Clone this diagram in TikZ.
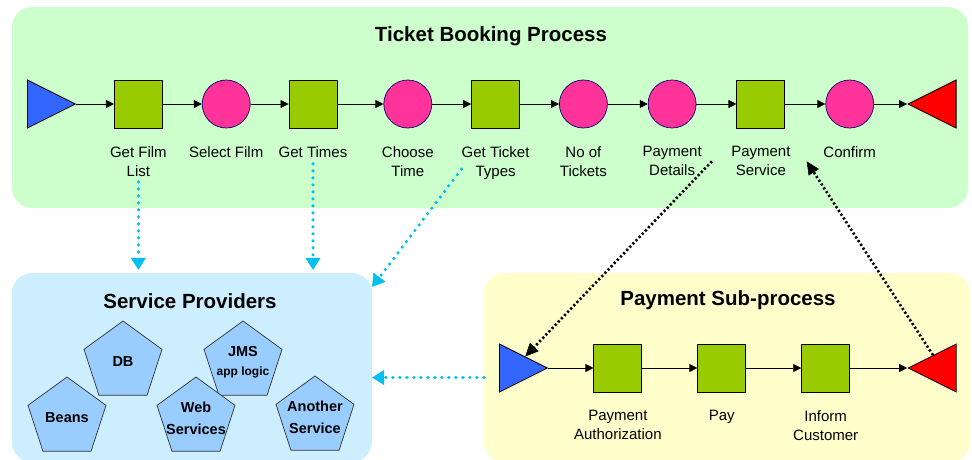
\documentclass[tikz,border=0pt]{standalone}
\usepackage{fontspec}
\setsansfont{Liberation Sans}
\usetikzlibrary{arrows.meta,positioning,shapes.geometric}
\definecolor{booking}{HTML}{CCFFCC}
\definecolor{provider}{HTML}{CCEEFF}
\definecolor{subproc}{HTML}{FFFFCC}
\definecolor{task}{HTML}{99CC00}
\definecolor{stop}{HTML}{FF3399}
\definecolor{startc}{HTML}{3366FF}
\definecolor{endc}{HTML}{FF0000}
\definecolor{pent}{HTML}{99CCFF}
\definecolor{uses}{HTML}{00C0F0}

\begin{document}
\begin{tikzpicture}[x=1pt,y=-1pt,
  font=\sffamily\fontsize{15}{19}\selectfont,
  panel/.style={fill=#1,rounded corners=20pt,inner sep=0pt},
  title/.style={font=\sffamily\bfseries\fontsize{20.5}{24}\selectfont,anchor=base},
  taskbox/.style={draw,fill=task,line width=.9pt,minimum size=48pt,inner sep=0pt},
  stepdot/.style={circle,draw=blue!40!black,fill=stop,line width=.7pt,minimum size=48pt,inner sep=0pt},
  source/.style={isosceles triangle,isosceles triangle stretches,draw,fill=startc,line width=.8pt,
    minimum width=48pt,minimum height=48pt,inner sep=0pt},
  sink/.style={source,fill=endc,shape border rotate=180},
  caption/.style={align=center,inner sep=0pt,anchor=north},
  flow/.style={-{Triangle[length=8pt,width=8pt]},line width=.8pt},
  uses/.style={-{Triangle[length=12pt,width=15pt,line width=.5pt]},draw=uses,line width=3.5pt,
    line cap=round,dash pattern=on 0pt off 7pt},
  call/.style={-{Triangle[length=13pt,width=12pt,line width=.5pt]},line width=2.6pt,
    dash pattern=on 2.2pt off 2.3pt},
  prov/.style={regular polygon,regular polygon sides=5,draw=black!80,fill=pent,line width=.7pt,
    minimum size=82pt,inner sep=0pt,
    label={[align=center,font=\sffamily\bfseries\fontsize{14.5}{22}\selectfont]center:#1}}
]
\useasboundingbox (0,0) rectangle (972,459);

% panels
\node[panel=booking,minimum width=956pt,minimum height=201pt] (book) at (490,107.5) {};
\node[panel=provider,minimum width=360pt,minimum height=189pt] (sp) at (192,367.5) {};
\node[panel=subproc,minimum width=486pt,minimum height=189pt] (psub) at (727,367.5) {};
\node[title] (tbook) at (491,41) {Ticket Booking Process};
\node[title] (tprov) at (190,308) {Service Providers};
\node[title] (tpay) at (728,305) {Payment Sub-process};

% booking flow
\node[source,anchor=west] (bstart) at (27,104) {};
\node[taskbox,right=37.5pt of bstart] (gfl) {};
\node[stepdot,right=39pt of gfl] (sfilm) {};
\node[taskbox,right=38pt of sfilm] (gtim) {};
\node[stepdot,right=46pt of gtim] (ctime) {};
\node[taskbox,right=39pt of ctime] (gtt) {};
\node[stepdot,right=39pt of gtt] (ntick) {};
\node[stepdot,right=40pt of ntick] (pdet) {};
\node[taskbox,right=40pt of pdet] (psvc) {};
\node[stepdot,right=40pt of psvc] (conf) {};
\node[sink,right=33pt of conf] (bend) {};
\foreach \a/\b in {bstart/gfl,gfl/sfilm,sfilm/gtim,gtim/ctime,ctime/gtt,gtt/ntick,ntick/pdet,pdet/psvc,psvc/conf,conf/bend}
  \draw[flow] (\a) -- (\b);

\node[caption,below=18pt of gfl] (lgfl) {Get Film\\List};
\node[caption,below=18pt of sfilm] (lsfilm) {Select Film};
\node[caption,below=18pt of gtim] (lgtim) {Get Times};
\node[caption,below=18pt of ctime] (lctime) {Choose\\Time};
\node[caption,below=18pt of gtt] (lgtt) {Get Ticket\\Types};
\node[caption,below=18pt of ntick] (lntick) {No of\\Tickets};
\node[caption,below=18pt of pdet] (lpdet) {Payment\\Details};
\node[caption,below=18pt of psvc] (lpsvc) {Payment\\Service};
\node[caption,below=18pt of conf] (lconf) {Confirm};

% payment sub-process
\node[source,anchor=west] (pstart) at (499,368) {};
\node[taskbox,right=45pt of pstart] (pauth) {};
\node[taskbox,right=55pt of pauth] (pay) {};
\node[taskbox,right=55pt of pay] (inform) {};
\node[sink,right=57pt of inform] (pend) {};
\foreach \a/\b in {pstart/pauth,pauth/pay,pay/inform,inform/pend}
  \draw[flow] (\a) -- (\b);
\node[caption,below=18pt of pauth] (lpauth) {Payment\\Authorization};
\node[caption,below=18pt of pay] (lpay) {Pay};
\node[caption,below=18pt of inform] (linform) {Inform\\Customer};

% providers
\node[prov={DB}] (db) at (123,362) {};
\node[prov={JMS\\[-3pt]{\fontsize{12}{14}\selectfont app logic}}] (jms) at (243,362) {};
\node[prov={Beans}] (beans) at (67,418) {};
\node[prov={Web\\Services}] (web) at (196,418) {};
\node[prov={Another\\Service}] (other) at (315,417) {};

% service calls
\draw[uses,shorten <=5pt,shorten >=3pt] (lgfl) -- (lgfl |- sp.north);
\draw[uses,shorten <=6pt,shorten >=3pt] (lgtim) -- (lgtim |- sp.north);
\draw[uses] ([yshift=-6pt]lgtt.west) -- ([yshift=-14pt]sp.north east);
\draw[uses] ([yshift=-10pt]psub.west) -- ([yshift=-10pt]sp.east);

% hand-over to and back from the sub-process
\draw[call] ([xshift=10pt]lpdet.east) -- (pstart);
\draw[call] (pend) -- ([xshift=16pt]lpsvc.east);
\end{tikzpicture}
\end{document}
